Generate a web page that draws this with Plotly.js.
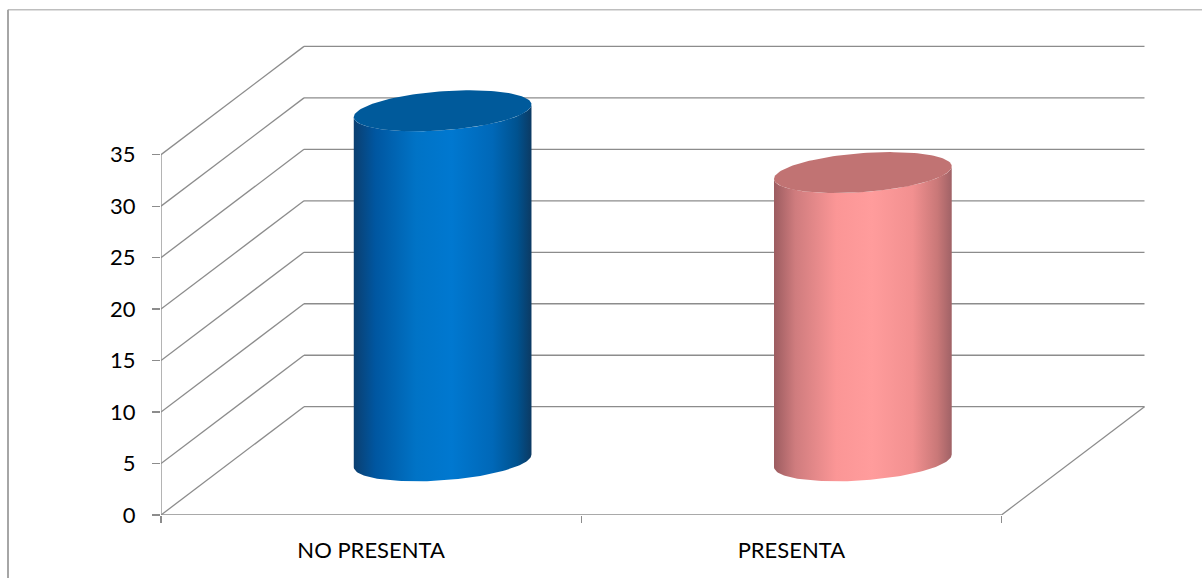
<!DOCTYPE html>
<html>
<head>
<meta charset="utf-8">
<script src="https://cdn.plot.ly/plotly-3.0.1.min.js"></script>
<style>html,body{margin:0;padding:0;background:#fff;}#chart{width:1202px;height:578px;}</style>
</head>
<body>
<div id="chart"></div>
<script>
// ---- data ----
const categories = ['NO PRESENTA', 'PRESENTA'];
const values = [34, 28];
const yTickVals = [0, 5, 10, 15, 20, 25, 30, 35];
const yTickText = ['0', '5', '10', '15', '20', '25', '30', '35'];

// ---- style ----
const bodyScales = [
  [[0, '#0b3f70'], [0.12, '#0056a0'], [0.35, '#0073c6'], [0.55, '#0078d0'], [0.78, '#0068b8'], [0.92, '#00528f'], [1, '#0c3a63']],
  [[0, '#9c5c60'], [0.12, '#cf7c7e'], [0.35, '#fb9696'], [0.55, '#ff9c9c'], [0.78, '#f29090'], [0.92, '#c97878'], [1, '#a06266']]
];
const topColors = ['#005a9b', '#c17373'];
const gridColor = '#8c8c8c';

// 3D projection constants (axis units)
const DX = 0.3403, DY = 10.52;       // full depth offset
const RA = 0.2013, KX = 0.0647, KY = 1.99; // cylinder ellipse params
const N = 72;

const shapes = [];
function line(x0, y0, x1, y1, w) {
  shapes.push({type: 'line', xref: 'x', yref: 'y', x0, y0, x1, y1, layer: 'below',
    line: {color: gridColor, width: w || 1.3}});
}
const nCat = categories.length;
const yMax = yTickVals[yTickVals.length - 1];
yTickVals.forEach(t => {
  line(0, t, DX, t + DY);
  line(DX, t + DY, nCat + DX, t + DY);
});
line(0, 0, nCat, 0);
line(nCat, 0, nCat + DX, DY);
line(0, 0, 0, yMax);
// outer frame
shapes.push({type: 'line', xref: 'paper', yref: 'paper', x0: -0.1547, x1: 1.1, y0: 1.0635, y1: 1.0635, line: {color: '#9e9e9e', width: 1}});
shapes.push({type: 'line', xref: 'paper', yref: 'paper', x0: -0.1547, x1: -0.1547, y0: 1.0635, y1: -0.2, line: {color: '#a6a6a6', width: 2}});

function ell(cx, cy, th) {
  return [cx + RA * Math.cos(th) + KX * Math.sin(th), cy + KY * Math.sin(th)];
}
const th0 = Math.atan2(KX, RA);
const traces = [];
values.forEach((v, i) => {
  const cx = i + 0.5 + DX / 2;
  const yb = DY / 2, yt = v + DY / 2;
  const bx = [], by = [];
  // top front arc: leftmost -> front -> rightmost
  for (let k = 0; k <= N; k++) {
    const th = th0 + Math.PI + Math.PI * k / N;
    const p = ell(cx, yt, th); bx.push(p[0]); by.push(p[1]);
  }
  // bottom front arc: rightmost -> front -> leftmost
  for (let k = 0; k <= N; k++) {
    const th = th0 + 2 * Math.PI - Math.PI * k / N;
    const p = ell(cx, yb, th); bx.push(p[0]); by.push(p[1]);
  }
  traces.push({type: 'scatter', x: bx, y: by, mode: 'lines', fill: 'toself',
    line: {width: 0, color: 'rgba(0,0,0,0)'},
    fillgradient: {type: 'horizontal', colorscale: bodyScales[i]},
    hoverinfo: 'skip', showlegend: false});
  const tx = [], ty = [];
  for (let k = 0; k <= 2 * N; k++) {
    const p = ell(cx, yt, Math.PI * k / N); tx.push(p[0]); ty.push(p[1]);
  }
  traces.push({type: 'scatter', x: tx, y: ty, mode: 'lines', fill: 'toself',
    fillcolor: topColors[i], line: {width: 0, color: 'rgba(0,0,0,0)'},
    hoverinfo: 'skip', showlegend: false});
});

const layout = {
  width: 1202, height: 578,
  margin: {l: 161, r: 52, t: 40, b: 63},
  paper_bgcolor: '#ffffff', plot_bgcolor: 'rgba(0,0,0,0)',
  font: {family: 'Lato, "Liberation Sans", sans-serif', size: 22, color: '#000000'},
  showlegend: false,
  xaxis: {range: [0, nCat + 0.3534], showgrid: false, zeroline: false, showline: false,
    tickvals: categories.map((c, i) => i + 0.5), ticktext: categories, ticks: '',
    tickfont: {size: 22}, ticklabelstandoff: 20,
    minor: {tickvals: [0, 1, 2], ticks: 'outside', ticklen: 7, tickcolor: gridColor, tickwidth: 1.3}},
  yaxis: {range: [0, 46.14], showgrid: false, zeroline: false, showline: false,
    tickvals: yTickVals, ticktext: yTickText, ticks: 'outside', ticklen: 8,
    tickcolor: gridColor, tickwidth: 1.3, tickfont: {size: 22}, ticklabelstandoff: 12},
  shapes: shapes
};
Plotly.newPlot('chart', traces, layout, {displayModeBar: false, staticPlot: true});
</script>
</body>
</html>
